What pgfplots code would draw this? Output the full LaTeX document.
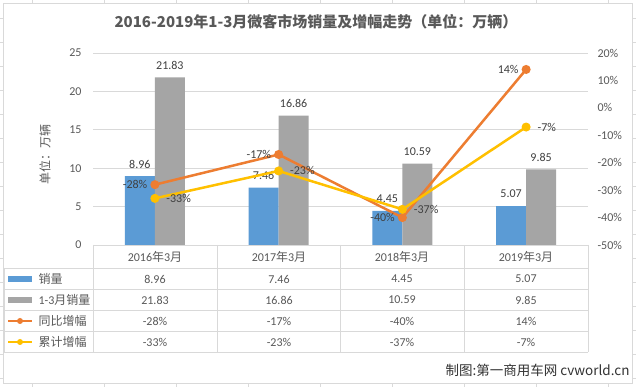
\documentclass[border=0pt]{standalone}
\usepackage{pgfplots}
\pgfplotsset{compat=1.18}
\usepackage{fontspec}
\setmainfont{Carlito}
\newfontfamily\cjk{Noto Sans CJK SC}
\newcommand\zh[1]{{\cjk #1}}
\definecolor{cblue}{HTML}{5B9BD5}
\definecolor{cgray}{HTML}{A5A5A5}
\definecolor{corange}{HTML}{ED7D31}
\definecolor{cyellow}{HTML}{FFC000}
\definecolor{gridc}{HTML}{D9D9D9}
\definecolor{txt}{HTML}{595959}
\definecolor{txtd}{HTML}{404040}
\definecolor{sheet}{HTML}{DADADA}
\newcommand\fs{\fontsize{12}{14}\selectfont}
\begin{document}
\begin{tikzpicture}[x=1pt,y=1pt]
\useasboundingbox (0,0) rectangle (636,387);
% spreadsheet grid behind the chart
\foreach \gx in {32,104,...,640} \draw[sheet,line width=0.6pt] (\gx,0)--(\gx,387);
\foreach \gy in {9,33,...,390} \draw[sheet,line width=0.6pt] (0,\gy)--(636,\gy);
\filldraw[fill=white,draw=gridc,line width=0.8pt] (3,384) rectangle (632,4);

% title
\node[text=txt] at (316,365) {\fontsize{15}{18}\selectfont\bfseries\zh{2016-2019年1-3月微客市场销量及增幅走势（单位：万辆）}};
% y label
\node[text=txt,rotate=90] at (45,232) {\fs\zh{单位：万辆}};

% bars (left axis)
\begin{axis}[
  at={(93pt,142pt)}, anchor=south west,
  scale only axis, width=495pt, height=192pt,
  xmin=-0.5, xmax=3.5, ymin=0, ymax=25,
  ytick={0,5,10,15,20,25}, xtick=\empty,
  ymajorgrids, grid style={gridc, line width=0.8pt},
  axis line style={draw=none}, major tick length=0pt,
  yticklabel style={font=\fs, text=txt, xshift=-8pt},
  /pgf/number format/assume math mode=true,
  ybar=0pt, bar width=30pt,
  nodes near coords={\pgfmathprintnumber[fixed,precision=2,fixed zerofill]{\pgfplotspointmeta}},
  every node near coord/.append style={font=\fs, text=txtd, yshift=4.5pt},
  clip=false,
]
\addplot[fill=cblue, draw=none] coordinates {(0,8.96)(1,7.46)(2,4.45)(3,5.07)};
\addplot[fill=cgray, draw=none] coordinates {(0,21.83)(1,16.86)(2,10.59)(3,9.85)};
\end{axis}

% lines (right axis)
\begin{axis}[
  at={(93pt,142pt)}, anchor=south west,
  scale only axis, width=495pt, height=192pt,
  xmin=-0.5, xmax=3.5, ymin=-50, ymax=20,
  axis y line*=right, axis x line=none,
  ytick={-50,-40,-30,-20,-10,0,10,20}, xtick=\empty,
  axis line style={draw=none}, major tick length=0pt,
  yticklabel={\pgfmathprintnumber{\tick}\%},
  yticklabel style={font=\fs, text=txt, anchor=west, xshift=6pt},
  /pgf/number format/assume math mode=true,
  clip=false,
]
\addplot[corange, line width=2.5pt, mark=*, mark size=3.2pt, mark options={fill=corange},
  nodes near coords={\pgfmathprintnumber{\pgfplotspointmeta}\%},
  every node near coord/.append style={font=\fs, text=txtd, anchor=east, xshift=-3pt}]
  coordinates {(0,-28)(1,-17)(2,-40)(3,14)};
\addplot[cyellow, line width=2.5pt, mark=*, mark size=3.2pt, mark options={fill=cyellow},
  nodes near coords={\pgfmathprintnumber{\pgfplotspointmeta}\%},
  every node near coord/.append style={font=\fs, text=txtd, anchor=west, xshift=7pt}]
  coordinates {(0,-33)(1,-23)(2,-37)(3,-7)};
\end{axis}

% data table
\draw[gridc,line width=0.8pt] (93,142)--(588,142);
\foreach \yy in {119,97.5,76.5,55.5,34.5} \draw[gridc,line width=0.8pt] (4,\yy)--(588,\yy);
\draw[gridc,line width=0.8pt] (4,119)--(4,34.5);
\foreach \xx in {93,217,340,464,588} \draw[gridc,line width=0.8pt] (\xx,142)--(\xx,34.5);

\foreach \cx/\yr in {155/2016,279/2017,402/2018,526/2019}
  \node[text=txt] at (\cx,130) {\fs\yr\zh{年}3\zh{月}};

% legend keys
\fill[cblue] (8,105) rectangle (32,111);
\fill[cgray] (8,84) rectangle (32,90);
\draw[corange,line width=2.5pt] (8,66)--(32,66);
\fill[corange] (20,66) circle (3pt);
\draw[cyellow,line width=2.5pt] (8,45)--(32,45);
\fill[cyellow] (20,45) circle (3pt);
\node[anchor=west,text=txt] at (35,108) {\fs\zh{销量}};
\node[anchor=west,text=txt] at (35,87) {\fs 1-3\zh{月销量}};
\node[anchor=west,text=txt] at (35,66) {\fs\zh{同比增幅}};
\node[anchor=west,text=txt] at (35,45) {\fs\zh{累计增幅}};

% table values
\foreach \cx/\va/\vb/\vc/\vd in {155/8.96/21.83/-28/-33, 279/7.46/16.86/-17/-23, 402/4.45/10.59/-40/-37, 526/5.07/9.85/14/-7} {
  \node[text=txt] at (\cx,108) {\fs\va};
  \node[text=txt] at (\cx,87) {\fs\vb};
  \node[text=txt] at (\cx,66) {\fs\vc\%};
  \node[text=txt] at (\cx,45) {\fs\vd\%};
}

% watermark
\node[anchor=east,text=black!80] at (633,17) {\fontsize{13.5}{16}\selectfont\zh{制图:第一商用车网 cvworld.cn}};
\end{tikzpicture}
\end{document}
